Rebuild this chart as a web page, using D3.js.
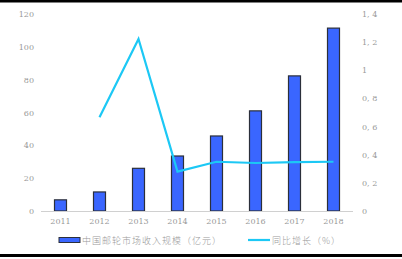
<!DOCTYPE html>
<html>
<head>
<meta charset="utf-8">
<script src="https://cdn.jsdelivr.net/npm/d3@7"></script>
<style>
  body { margin: 0; background: #fff; }
  svg { display: block; }
</style>
</head>
<body>
<div id="chart"></div>
<script>
const years = ['2011', '2012', '2013', '2014', '2015', '2016', '2017', '2018'];
const revenue = [6.8, 11.6, 26, 33.5, 45.7, 61, 82.3, 111.4];
const growth = [null, 0.666, 1.222, 0.28, 0.35, 0.341, 0.348, 0.35];
const leftTicks = [0, 20, 40, 60, 80, 100, 120];
const rightTicks = [0, 0.2, 0.4, 0.6, 0.8, 1, 1.2, 1.4];
const legendLabels = ['中国邮轮市场收入规模（亿元）', '同比增长（%）'];

const W = 402, H = 259;
const plotLeft = 41, plotRight = 353, plotTop = 14, plotBottom = 211;
const cjkFont = '"Noto Sans CJK SC", "Noto Sans", sans-serif';
const textGrey = '#999';

const svg = d3.select('#chart').append('svg')
    .attr('width', W)
    .attr('height', H);

// black rules at top and bottom
svg.append('rect').attr('x', 0).attr('y', 0).attr('width', W).attr('height', 2.5).style('fill', '#000');
svg.append('rect').attr('x', 0).attr('y', 254).attr('width', W).attr('height', 3).style('fill', '#000');

let x = d3.scaleBand().domain(years).range([plotLeft, plotRight]),
    yL = d3.scaleLinear().domain([0, 120]).range([plotBottom, plotTop]),
    yR = d3.scaleLinear().domain([0, 1.4]).range([plotBottom, plotTop]);

// left axis labels
svg.append('g')
    .attr('transform', 'translate(' + (plotLeft - 7) + ',0)')
    .call(d3.axisLeft(yL).tickValues(leftTicks).tickSize(0).tickPadding(0))
    .call(g => g.select('.domain').remove())
    .selectAll('text')
    .style('font-family', 'DejaVu Serif, serif')
    .style('font-size', '8px')
    .style('fill', textGrey);

// right axis labels
svg.append('g')
    .attr('transform', 'translate(' + (plotRight + 9) + ',0)')
    .call(d3.axisRight(yR).tickValues(rightTicks).tickSize(0).tickPadding(0)
        .tickFormat(d => d === 0 || d === 1 ? String(d) : d3.format('.1f')(d).replace('.', ', ')))
    .call(g => g.select('.domain').remove())
    .selectAll('text')
    .style('font-family', 'DejaVu Serif, serif')
    .style('font-size', '8px')
    .style('fill', textGrey);

// bars
const bw = 12;
svg.append('g').selectAll('rect')
    .data(years)
    .join('rect')
    .attr('x', d => x(d) + x.bandwidth() / 2 - bw / 2)
    .attr('y', (d, i) => yL(revenue[i]))
    .attr('width', bw)
    .attr('height', (d, i) => plotBottom - yL(revenue[i]))
    .style('fill', '#3A66FF')
    .style('stroke', '#2b2f3a')
    .style('stroke-width', 1.2);

// x axis line
svg.append('line')
    .attr('x1', plotLeft).attr('x2', plotRight)
    .attr('y1', plotBottom + 0.5).attr('y2', plotBottom + 0.5)
    .style('stroke', '#d0d0d0');

// x labels
svg.append('g').selectAll('text')
    .data(years)
    .join('text')
    .attr('x', d => x(d) + x.bandwidth() / 2)
    .attr('y', plotBottom + 13)
    .attr('text-anchor', 'middle')
    .style('font-family', 'DejaVu Serif, serif')
    .style('font-size', '8px')
    .style('fill', textGrey)
    .text(d => d);

// growth line
const line = d3.line()
    .defined(d => d[1] !== null)
    .x(d => x(d[0]) + x.bandwidth() / 2)
    .y(d => yR(d[1]));

svg.append('path')
    .datum(years.map((d, i) => [d, growth[i]]))
    .attr('d', line)
    .style('fill', 'none')
    .style('stroke', '#1CC8F5')
    .style('stroke-width', 2.2);

// legend
const ly = 240;
svg.append('rect')
    .attr('x', 59).attr('y', ly - 2.5)
    .attr('width', 21).attr('height', 5)
    .style('fill', '#3A66FF')
    .style('stroke', '#2b2f3a')
    .style('stroke-width', 1);

svg.append('text')
    .attr('x', 82).attr('y', ly + 3.5)
    .style('font-family', cjkFont)
    .style('font-size', '9px')
    .style('font-weight', 300)
    .style('letter-spacing', '1px')
    .style('fill', textGrey)
    .text(legendLabels[0]);

svg.append('line')
    .attr('x1', 248).attr('x2', 270)
    .attr('y1', ly).attr('y2', ly)
    .style('stroke', '#1CC8F5')
    .style('stroke-width', 2.2);

svg.append('text')
    .attr('x', 272).attr('y', ly + 3.5)
    .style('font-family', cjkFont)
    .style('font-size', '9px')
    .style('font-weight', 300)
    .style('letter-spacing', '1px')
    .style('fill', textGrey)
    .text(legendLabels[1]);
</script>
</body>
</html>
